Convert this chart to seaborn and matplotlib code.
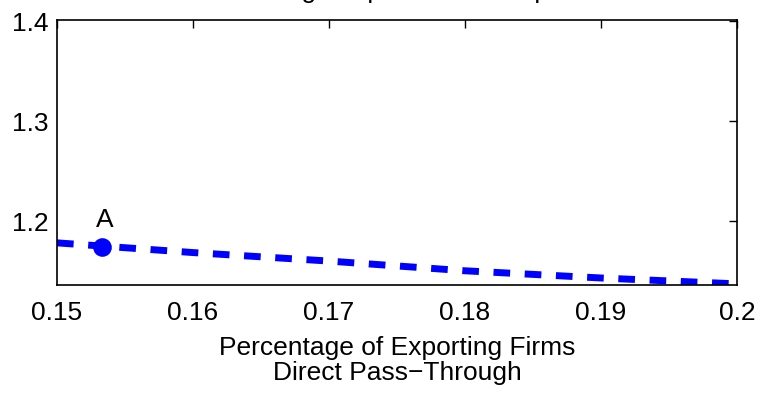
import matplotlib
matplotlib.use("Agg")
import matplotlib.pyplot as plt
import seaborn as sns
import pandas as pd

# data
share_exporting = [0.15, 0.16, 0.17, 0.18, 0.19, 0.20]
pass_through = [1.1784, 1.1687, 1.1602, 1.1505, 1.1433, 1.1374]
point_label = ["A"]
point_x = [0.1533]
point_y = [1.1744]
xticks = [0.15, 0.16, 0.17, 0.18, 0.19, 0.20]
xtick_labels = ["0.15", "0.16", "0.17", "0.18", "0.19", "0.2"]
yticks = [1.2, 1.3, 1.4]
ytick_labels = ["1.2", "1.3", "1.4"]

sns.set_style("white")
plt.rcParams["font.family"] = ["Liberation Sans", "DejaVu Sans"]
plt.rcParams["text.color"] = "black"
plt.rcParams["axes.labelcolor"] = "black"
plt.rcParams["xtick.color"] = "black"
plt.rcParams["ytick.color"] = "black"

fig = plt.figure(figsize=(7.61, 3.96), dpi=100)
ax = fig.add_axes([57 / 761, 1 - 285 / 396, 680 / 761, 265 / 396])

df = pd.DataFrame({"x": share_exporting, "y": pass_through})
sns.lineplot(data=df, x="x", y="y", ax=ax, color="#0000ff", linewidth=5,
             linestyle="--", legend=False)
ax.lines[0].set_dashes((2.4, 2.1))
ax.lines[0].set_dash_capstyle("butt")

pts = pd.DataFrame({"x": point_x, "y": point_y, "label": point_label})
sns.scatterplot(data=pts, x="x", y="y", ax=ax, color="#0000ff", s=180,
                edgecolor="#0000ff", linewidth=0, marker="o", legend=False, zorder=5)
for _, r in pts.iterrows():
    ax.text(r["x"] + 0.0002, r["y"] + 0.02, r["label"], fontsize=19,
            ha="center", va="baseline", color="black")

ax.set_xlim(0.15, 0.20)
ax.set_ylim(1.1363, 1.401)
ax.set_xticks(xticks)
ax.set_xticklabels(xtick_labels)
ax.set_yticks(yticks)
ax.set_yticklabels(ytick_labels)
ax.tick_params(axis="both", which="both", direction="in", length=6, width=1,
               labelsize=19, top=True, right=True, color="black",
               labelcolor="black")
ax.tick_params(axis="x", pad=11.5)
ax.tick_params(axis="y", pad=6)
for s in ax.spines.values():
    s.set_visible(True)
    s.set_color("black")
    s.set_linewidth(1.2)

ax.set_xlabel("Percentage of Exporting Firms\nDirect Pass\u2212Through",
              fontsize=19, linespacing=1.04, labelpad=8, color="black")
ax.set_ylabel("")

# title clipped at the top edge of the figure (as in the reference)
fig.text(0.551, 1 + 2 / 396, "Average Import Price Response",
         fontsize=19, ha="center", va="baseline", color="black")

fig.savefig("out.png", dpi=100)
